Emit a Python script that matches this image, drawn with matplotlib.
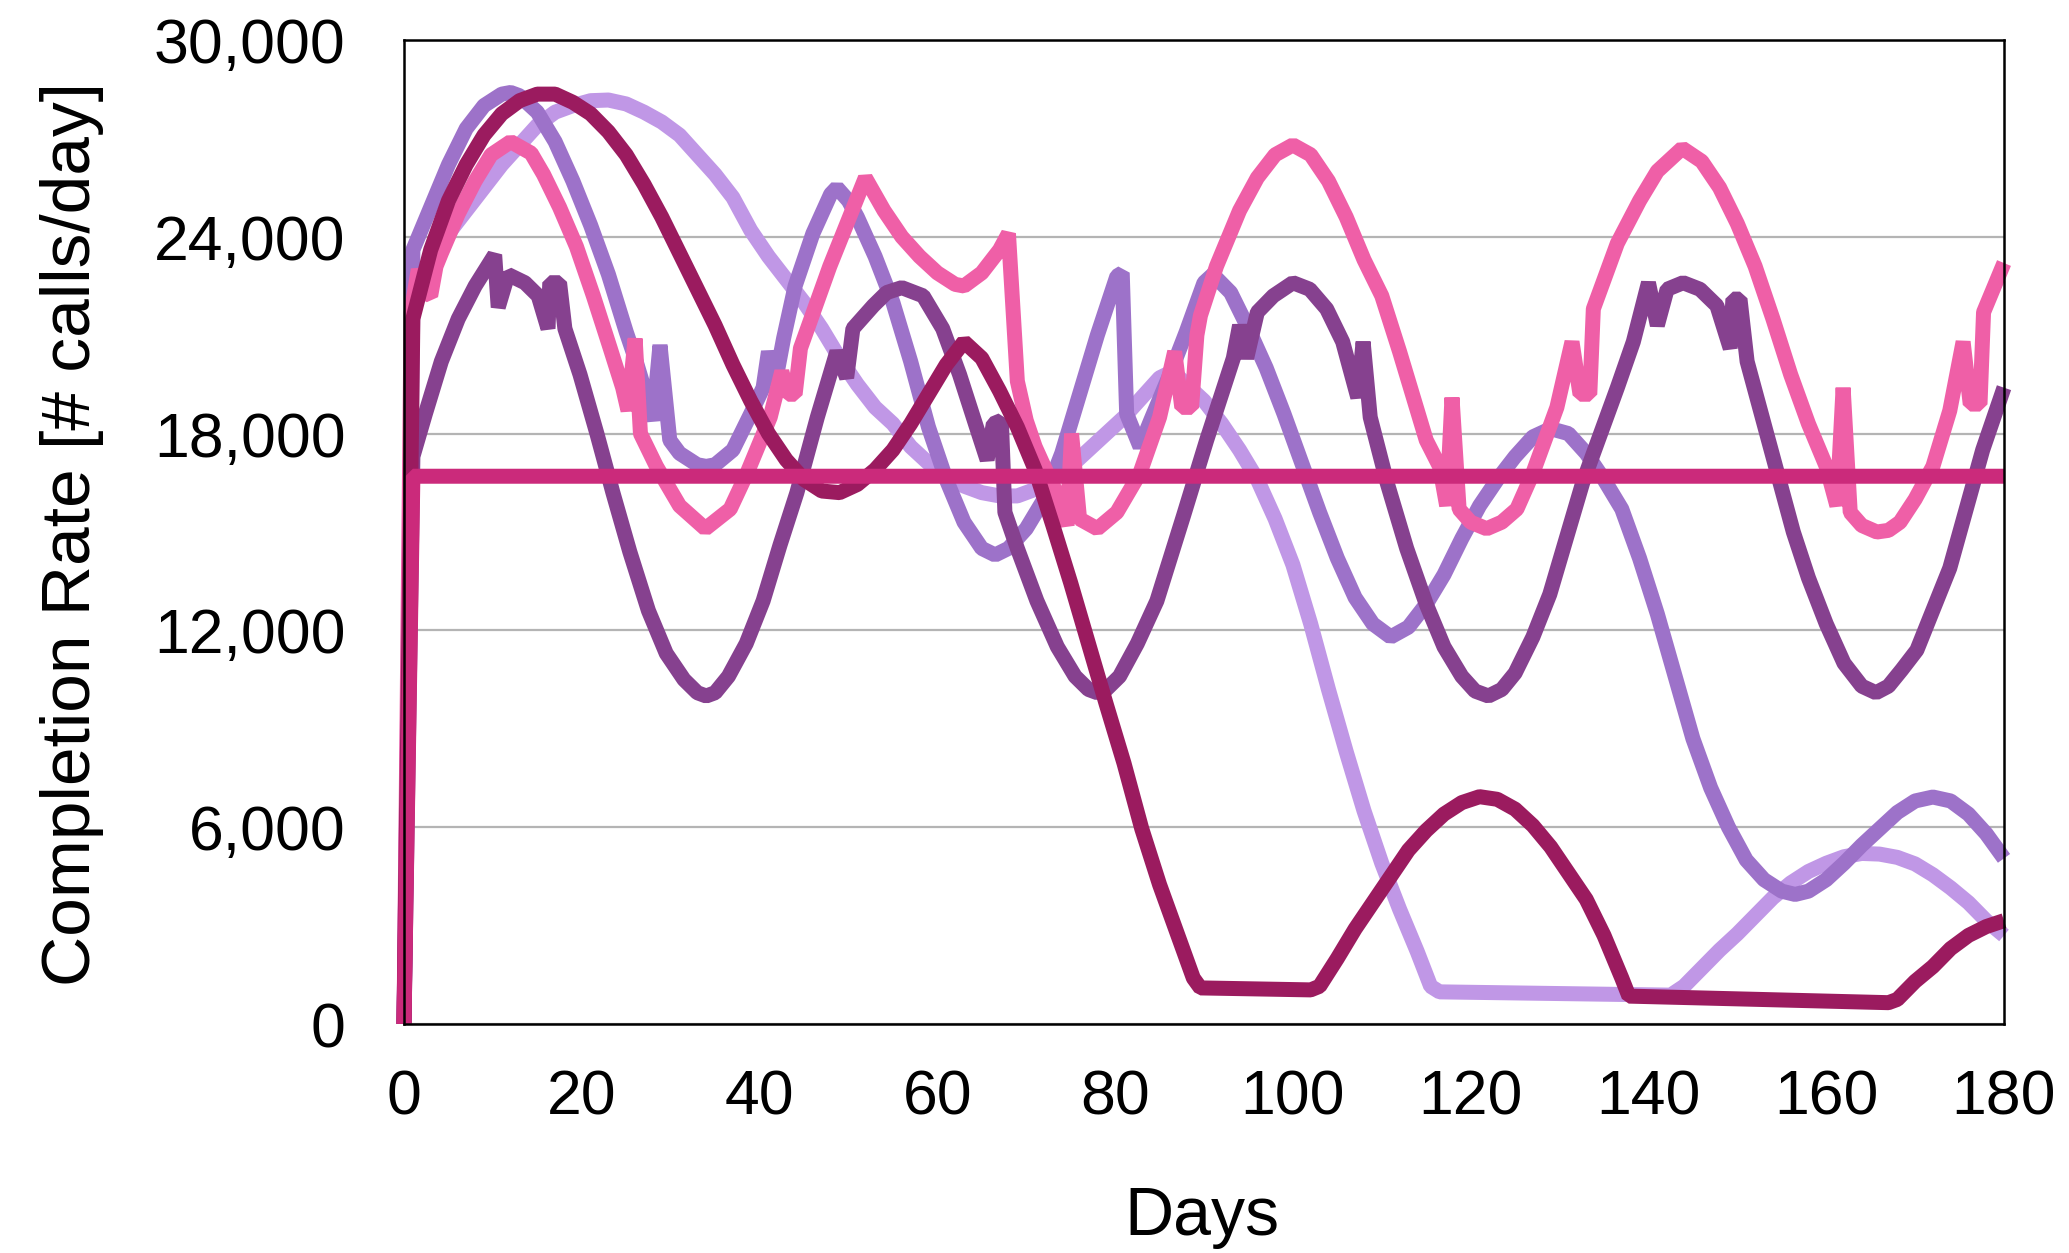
import matplotlib
matplotlib.use("Agg")
import matplotlib.pyplot as plt

plt.rcParams['font.family'] = ['Liberation Sans', 'DejaVu Sans']

# ---- data (values in calls/day) ----
a_days = [0, 1, 3, 5, 7, 9, 11, 13, 15, 17, 19, 21, 23, 25, 27, 29, 31, 33, 35, 37, 39, 41, 43, 45, 47, 49,
          51, 53, 55, 57, 59, 61, 63, 65, 67, 69, 71, 73, 75, 77, 79, 81, 83, 85, 87, 88.8, 89.6, 102, 103,
          105, 107, 109, 111, 113, 115, 117, 119, 121, 123, 125, 127, 129, 131, 133, 135, 137, 137.8, 167,
          168, 170, 172, 174, 176, 178, 180]
a_vals = [0, 21500, 23600, 25100, 26200, 27100, 27750, 28150, 28350, 28350, 28100, 27750, 27200, 26500,
          25600, 24600, 23500, 22400, 21300, 20100, 19000, 18000, 17200, 16600, 16250, 16200, 16450, 16900,
          17500, 18300, 19200, 20100, 20800, 20300, 19300, 18200, 16900, 15200, 13450, 11600, 9750, 7950,
          5950, 4250, 2750, 1400, 1100, 1040, 1150, 2000, 2900, 3700, 4500, 5300, 5900, 6400, 6750, 6930,
          6850, 6550, 6050, 5400, 4600, 3800, 2700, 1400, 850, 650, 750, 1300, 1750, 2300, 2700, 2970, 3150]

b_days = [0, 1, 3, 5, 7, 9, 11, 13, 15, 17, 19, 21, 23, 25, 27, 29, 31, 33, 35, 37, 39, 41, 43, 45, 47, 49,
          51, 53, 55, 57, 59, 61, 63, 65, 67, 69, 71, 73, 75, 77, 79, 81, 83, 85, 86.5, 88, 90, 92, 94, 96,
          98, 100, 102, 104, 106, 108, 110, 112, 114, 115.5, 116.5, 142.5, 144, 146, 148, 150, 152, 154,
          156, 158, 160, 162, 164, 166, 168, 170, 172, 174, 176, 178, 180]
b_vals = [0, 22000, 23200, 24100, 24800, 25500, 26200, 26800, 27400, 27800, 28000, 28150, 28170, 28050,
          27800, 27500, 27100, 26500, 25900, 25200, 24200, 23400, 22700, 22000, 21200, 20300, 19500, 18800,
          18300, 17600, 17100, 16700, 16400, 16200, 16100, 16100, 16300, 16600, 17000, 17500, 18000, 18500,
          19100, 19700, 19900, 19500, 19000, 18300, 17500, 16600, 15400, 14000, 12200, 10200, 8300, 6500,
          4900, 3500, 2200, 1150, 980, 880, 1150, 1700, 2250, 2750, 3300, 3850, 4300, 4650, 4900, 5100, 5200,
          5180, 5080, 4880, 4550, 4150, 3700, 3150, 2700]

c_days = [0, 1, 3, 5, 7, 9, 11, 12, 13, 15, 17, 19, 21, 23, 25, 26, 27, 28, 28.8, 29.9, 31, 33, 34, 35,
          37, 39, 40.4, 41, 41.8, 42.7, 44, 46, 48, 48.7, 50, 51, 53, 55, 57, 59, 61, 63, 65, 66.5, 68, 70,
          72, 74, 76, 78, 80.2, 80.8, 81.3, 82.8, 84, 86, 88, 90, 91, 93, 95, 97, 99, 101, 103, 105, 107,
          109, 111, 113, 115, 117, 119, 121, 123, 125, 127, 129, 131, 133, 135, 137, 139, 141, 143, 145,
          147, 149, 151, 153, 155, 156.5, 158, 160, 162, 164, 166, 168, 170, 172, 174, 176, 178, 180]
c_vals = [0, 23600, 24900, 26200, 27300, 28000, 28350, 28400, 28300, 27800, 26900, 25700, 24350, 22850,
          21100, 20300, 19400, 18400, 20700, 17800, 17400, 17050, 17000, 17050, 17500, 18600, 19400, 20500,
          19600, 20900, 22500, 24100, 25300, 25500, 25100, 24600, 23400, 22000, 20200, 18200, 16600, 15300,
          14500, 14300, 14500, 15100, 16000, 17400, 19200, 21000, 22800, 22900, 18600, 17600, 18400, 19700,
          21100, 22600, 22850, 22300, 21200, 20000, 18600, 17100, 15600, 14200, 13000, 12200, 11800, 12100,
          12800, 13700, 14800, 15800, 16600, 17300, 17900, 18150, 18000, 17400, 16600, 15700, 14200, 12500,
          10600, 8700, 7200, 6000, 5000, 4400, 4050, 3950, 4050, 4400, 4900, 5450, 5950, 6450, 6800, 6920,
          6800, 6400, 5800, 5050]

d_days = [0, 1, 2.4, 4.2, 6.1, 8, 10.2, 10.6, 11.7, 13.6, 15.1, 16.2, 16.4, 17.5, 18.1, 19.8, 21.7, 23.5,
          25.4, 27.5, 29.5, 31.5, 33, 34, 35, 36.5, 38.5, 40.4, 42.3, 44.2, 46.5, 48.7, 49.8, 50.5, 52.8,
          54.3, 56, 58.4, 60.6, 62.5, 64.4, 65.6, 66.3, 67.2, 67.6, 69, 71.2, 73.5, 75.5, 77, 78, 79, 80.5,
          82.5, 84.7, 87.7, 90.3, 93.3, 94, 94.8, 96, 97.8, 100, 101.9, 103.8, 105.6, 107.3, 107.9, 108.7,
          110.6, 112.8, 115, 117, 119, 120.5, 122, 123.5, 125, 127, 128.9, 132.6, 136.5, 138.3, 140, 141,
          142.1, 143.9, 145.8, 147.7, 149.2, 149.5, 150.3, 151.1, 153.3, 156.3, 158, 160, 162, 164, 165.6,
          167, 168.5, 170.2, 173.9, 177.6, 180]
d_vals = [0, 17300, 18600, 20200, 21500, 22500, 23450, 21850, 22850, 22600, 22200, 21200, 22600, 22600,
          21200, 19800, 18000, 16200, 14400, 12600, 11300, 10500, 10100, 10000, 10100, 10600, 11600, 12900,
          14600, 16200, 18500, 20500, 19700, 21200, 21900, 22300, 22450, 22200, 21200, 19800, 18200, 17200,
          18300, 18400, 15600, 14500, 12900, 11500, 10600, 10200, 10100, 10200, 10600, 11600, 12900, 15500,
          17800, 20300, 21300, 20300, 21700, 22200, 22600, 22400, 21800, 20800, 19100, 20800, 18500, 16500,
          14500, 12800, 11500, 10600, 10150, 10000, 10200, 10700, 11800, 13100, 16500, 19400, 20800, 22600,
          21300, 22400, 22600, 22400, 21900, 20600, 22100, 22100, 20200, 18000, 15000, 13600, 12200, 11000,
          10300, 10100, 10300, 10800, 11400, 13900, 17500, 19400]

e_days = [0, 0.8, 1.6, 2.4, 3.0, 3.6, 4.2, 6.1, 8, 9.8, 12, 14.3, 15.7, 17.5, 19.4, 21.3, 23.2, 24.6, 25.2,
          26.0, 26.6, 28.4, 31, 33.9, 36.7, 38.6, 41.2, 42.5, 43.2, 44.0, 44.6, 47.9, 51.9, 54, 56, 58, 60,
          62, 63, 65, 67, 68, 69, 70, 71, 72, 73.4, 74.6, 75.1, 76, 78, 80.2, 82.8, 85, 86.7, 87.5, 88.6,
          89.2, 89.6, 91.4, 94, 96, 98, 100, 102, 104, 106, 108, 110, 112, 114, 115, 116.5, 117.3, 117.9,
          118.7, 120, 121.8, 123.5, 125.2, 127, 129.7, 131.4, 132.3, 133.4, 133.8, 136.5, 139, 141, 143.8,
          146, 148, 150, 152, 154, 156, 158, 160, 161.2, 161.9, 162.7, 164, 165.7, 167, 168.3, 170, 172,
          173.9, 175.4, 176.2, 177.3, 177.7, 180]
e_vals = [0, 21700, 23000, 22300, 22200, 23100, 23500, 24700, 25700, 26500, 26900, 26550, 25900, 24900,
          23700, 22200, 20600, 19400, 18700, 20900, 18000, 17000, 15800, 15100, 15700, 16800, 18500, 19900,
          19200, 19200, 20600, 23100, 25800, 24800, 24000, 23400, 22900, 22550, 22500, 22900, 23600, 24100,
          19600, 18400, 17600, 17000, 16200, 15200, 18000, 15400, 15100, 15600, 16800, 18500, 20500, 18800,
          18800, 21000, 21600, 23100, 24800, 25800, 26500, 26800, 26500, 25700, 24600, 23300, 22200, 20500,
          18700, 17800, 17000, 15800, 19100, 15700, 15300, 15100, 15300, 15700, 16800, 18800, 20800, 19200,
          19200, 21800, 23800, 25100, 26000, 26700, 26300, 25500, 24400, 23100, 21500, 19800, 18300, 17000,
          15800, 19400, 15600, 15200, 15000, 15050, 15300, 16000, 17000, 18700, 20800, 18900, 18900, 21700,
          23200]

f_days = [0, 1, 180]
f_vals = [0, 16700, 16700]

series = [
    (b_days, b_vals, '#C097E6'),
    (c_days, c_vals, '#9D72C9'),
    (e_days, e_vals, '#EF5FA7'),
    (d_days, d_vals, '#86418F'),
    (a_days, a_vals, '#9B1B5F'),
    (f_days, f_vals, '#CB2A7B'),
]

x_ticks = [0, 20, 40, 60, 80, 100, 120, 140, 160, 180]
y_ticks = [0, 6000, 12000, 18000, 24000, 30000]
y_tick_labels = ['0', '6,000', '12,000', '18,000', '24,000', '30,000']

W, H = 2069, 1253
fig = plt.figure(figsize=(W / 100, H / 100), dpi=100)
ax = fig.add_axes([404 / W, 1 - 1024 / H, 1600 / W, 984 / H])

for xs, ys, col in series:
    ax.plot(xs, ys, color=col, lw=10.8, solid_joinstyle='bevel', solid_capstyle='butt', clip_on=False)

ax.set_xlim(0, 180)
ax.set_ylim(0, 30000)
ax.set_xticks(x_ticks)
ax.set_xticklabels([str(t) for t in x_ticks])
ax.set_yticks(y_ticks)
ax.set_yticklabels(y_tick_labels)
ax.tick_params(axis='both', length=0, labelsize=45)
ax.tick_params(axis='y', pad=42)
ax.tick_params(axis='x', pad=32)
ax.yaxis.grid(True, color='#B4B4B4', lw=1.6)
ax.set_axisbelow(True)
for s in ax.spines.values():
    s.set_linewidth(1.8)
    s.set_color('black')

ax.set_xlabel('Days', fontsize=49, va='center')
ax.xaxis.set_label_coords(0.499, -0.196)
ax.set_ylabel('Completion Rate [# calls/day]', fontsize=50, va='center')
ax.yaxis.set_label_coords(-0.2075, 0.498)

fig.savefig('out.png', dpi=100)
